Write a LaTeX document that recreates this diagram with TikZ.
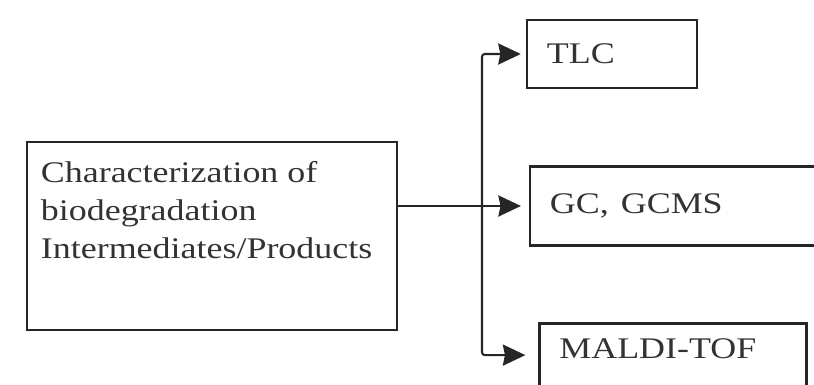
\documentclass[tikz,border=0pt]{standalone}
\usepackage{fontspec}
\setmainfont{Liberation Serif}
\usetikzlibrary{positioning,arrows.meta}

\newcommand{\stretchx}[1]{\scalebox{1.2}[1]{#1}}

\begin{document}
\begin{tikzpicture}[x=0.025cm, y=-0.025cm, >={Stealth[length=16pt,width=15pt,inset=1.5pt]},
  box/.style={draw=black!85, line width=1.9pt, rectangle, inner sep=0pt,
    text=black!80, font=\fontsize{21.3pt}{27pt}\selectfont},
  method/.style={box, align=left, inner xsep=0.5cm},
  link/.style={draw=black!85, line width=1.5pt}]

  % Cadre de l'image
  \useasboundingbox (0,0) rectangle (814,385);
  \clip (0,0) rectangle (814,385);

  % ==========================================
  % BOITE PRINCIPALE (A GAUCHE)
  % ==========================================
  \node[box, minimum width=9.25cm, minimum height=4.7cm] (char) at (212,236) {};
  \node[below right=0.52cm and 0.375cm of char.north west, inner sep=0pt, align=left,
    text=black!80, font=\fontsize{21.3pt}{27pt}\selectfont] (charText)
    {\stretchx{Characterization of}\\ \stretchx{biodegradation}\\ \stretchx{Intermediates/Products}};

  % ==========================================
  % METHODES (A DROITE)
  % ==========================================
  \node[method, minimum width=4.25cm, minimum height=1.7cm, text width=3.25cm] (tlc) at (612,54) {\stretchx{TLC}};
  \node[method, minimum width=8cm, minimum height=1.975cm, text width=7cm] (gc) at (690,206) {\stretchx{GC, GCMS}};
  \node[method, anchor=north west, text width=5.675cm, inner ysep=0.375cm,
    text height=0.5cm, text depth=1.5cm] (maldi) at (538,322) {\stretchx{MALDI-TOF}};

  % Fleches
  \draw[link, ->, shorten >=5.5pt] (char.east |- gc.west) -- (gc.west);
  \coordinate (split) at (482,206);
  \draw[link, ->, rounded corners=2pt, shorten >=3.5pt] (split) |- (tlc.west);
  \draw[link, ->, rounded corners=2pt, shorten >=9pt] (split) |- (maldi.mid west);

\end{tikzpicture}
\end{document}
